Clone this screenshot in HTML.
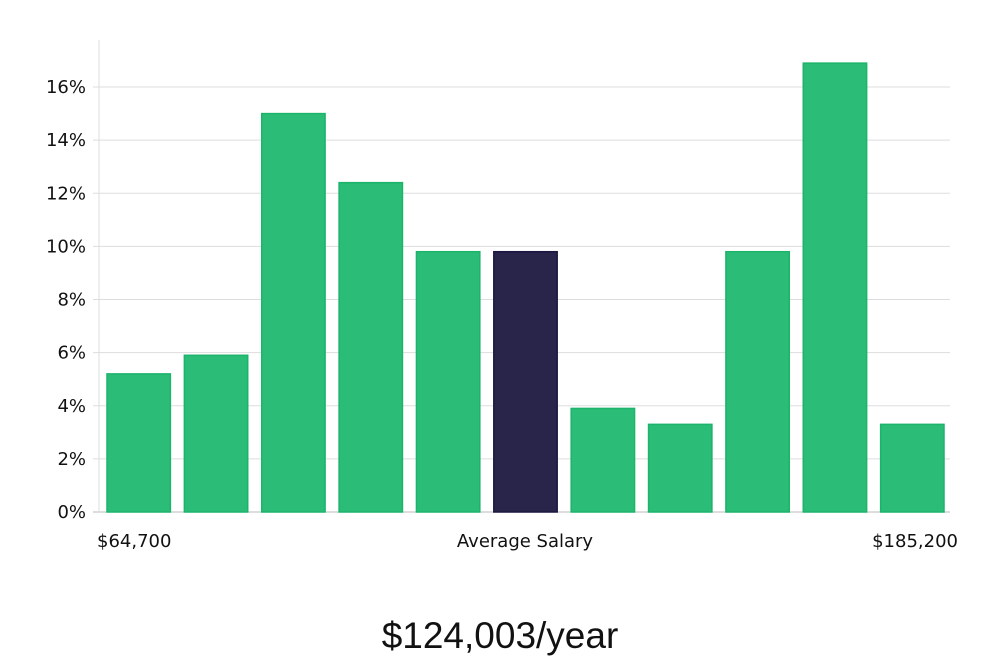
<!DOCTYPE html>
<html><head><meta charset="utf-8"><style>
body{margin:0;background:#fff;width:1000px;height:660px;overflow:hidden;font-family:"DejaVu Sans","Liberation Sans",sans-serif;}
svg text{fill:#111;}
</style></head><body>
<svg id="chart" width="1000" height="660" xmlns="http://www.w3.org/2000/svg">
<g id="grid"></g>
<g id="bars"></g>
<g id="yticks"></g>
<text x="97" y="547" font-size="18">$64,700</text>
<text x="525" y="547" font-size="18" text-anchor="middle">Average Salary</text>
<text x="958" y="547" font-size="18" text-anchor="end">$185,200</text>
<text x="500" y="648" font-size="37" text-anchor="middle" font-family="Liberation Sans, sans-serif" style="font-weight:300">$124,003/year</text>
</svg>
<script>
const values=[5.2,5.9,15.0,12.4,9.8,9.8,3.9,3.3,9.8,16.9,3.3];
const highlightIndex=5;
const yTicks=[0,2,4,6,8,10,12,14,16];
const ns="http://www.w3.org/2000/svg";
const left=99,right=950,y0=512,pxPer=26.56;
const y=v=>y0-v*pxPer;
const step=(right-left)/values.length;
const grid=document.getElementById('grid'),yt=document.getElementById('yticks'),bars=document.getElementById('bars');
const ax=document.createElementNS(ns,'line');


ax.setAttribute('x1',left);ax.setAttribute('x2',left);ax.setAttribute('y1',40);ax.setAttribute('y2',y0);ax.setAttribute('stroke','#ddd');
yt.appendChild(ax);
yTicks.forEach(t=>{
 const l=document.createElementNS(ns,'line');
 
 
 l.setAttribute('x1',left-6);l.setAttribute('x2',right);l.setAttribute('y1',y(t));l.setAttribute('y2',y(t));
 l.setAttribute('stroke',t===0?'#bbb':'#ddd');
 grid.appendChild(l);
 const tx=document.createElementNS(ns,'text');
 
 
 tx.setAttribute('x',left-13);tx.setAttribute('y',y(t)+6);tx.setAttribute('font-size','18');tx.setAttribute('text-anchor','end');
 tx.textContent=t+'%';
 yt.appendChild(tx);
});
values.forEach((v,i)=>{
 const r=document.createElementNS(ns,'rect');
 
 
 r.setAttribute('x',left+i*step+8);r.setAttribute('width',step-14);
 r.setAttribute('y',y(v));r.setAttribute('height',y0-y(v));
 const hi=i===highlightIndex;
 r.setAttribute('fill',hi?'#29244a':'#2bbd77');
 r.setAttribute('stroke',hi?'#1a1640':'#1cb36a');
 r.setAttribute('stroke-width','1.5');
 bars.appendChild(r);
});
</script>
</body></html>
